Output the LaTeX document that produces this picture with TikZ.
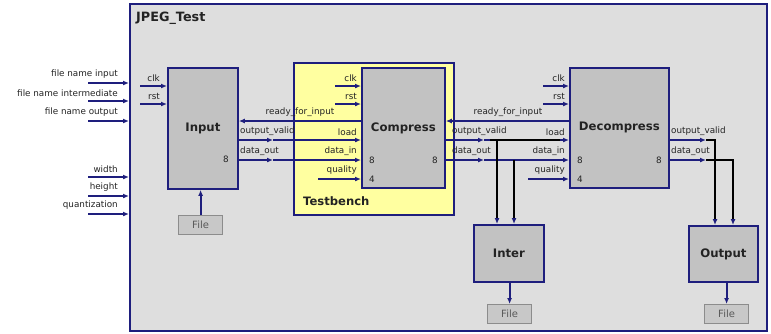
\documentclass[tikz,border=0pt]{standalone}
\usepackage{fontspec}
\setmainfont{DejaVu Sans}
\usetikzlibrary{arrows.meta}
\definecolor{nv}{RGB}{30,30,125}
\definecolor{bg}{RGB}{222,222,222}
\definecolor{bx}{RGB}{194,194,194}
\definecolor{yl}{RGB}{255,255,160}
\definecolor{fl}{RGB}{200,200,200}
\definecolor{flb}{RGB}{140,140,140}
\definecolor{tx}{RGB}{35,35,35}
\tikzset{
 blk/.style={draw=nv, line width=1.8pt, fill=bx, anchor=north west, inner sep=0pt, font=\fontsize{11.7}{13}\selectfont\bfseries, text=tx},
 filebox/.style={draw=flb, line width=1.2pt, fill=fl, anchor=north west, inner sep=0pt, minimum width=44, minimum height=19, font=\fontsize{10}{12}\selectfont, text=black!65},
 lbl/.style={font=\fontsize{8.8}{10}\selectfont, text=tx, inner sep=0pt},
 sig/.style={draw=nv, line width=2pt, -{Latex[length=6pt,width=5pt]}},
 bsig/.style={draw=black, line width=1.6pt},
 bsiga/.style={draw=black, line width=1.6pt, -{Latex[length=6pt,width=5pt,color=nv]}},
}
\begin{document}
\begin{tikzpicture}[x=1pt,y=-1pt]
\useasboundingbox (0,0) rectangle (771,333);
% outer
\node[draw=nv, line width=2pt, fill=bg, anchor=north west, minimum width=637, minimum height=327, inner sep=0pt] (top) at (129,3) {};
\node[anchor=north west, inner sep=0pt, font=\fontsize{12.8}{14}\selectfont\bfseries, text=tx] (ttl) at (136,12) {JPEG\_Test};
% testbench
\node[draw=nv, line width=1.8pt, fill=yl, anchor=north west, minimum width=160, minimum height=152, inner sep=0pt] (tb) at (293,62) {};
\node[anchor=west, inner sep=0pt, font=\fontsize{11.6}{13}\selectfont\bfseries, text=tx] (tbl) at (303,201) {Testbench};
% blocks
\node[blk, minimum width=70, minimum height=121] (Input) at (167,67) {Input};
\node[blk, minimum width=83, minimum height=120] (Comp) at (361,67) {Compress};
\node[blk, minimum width=99, minimum height=120] (Dec) at (569,67) {Decompress};
\node[blk, minimum width=70, minimum height=57] (Inter) at (473,224) {Inter};
\node[blk, minimum width=69, minimum height=56] (Out) at (688,225) {Output};
\node[filebox] (F1) at (178,215) {File};
\node[filebox] (F2) at (487,304) {File};
\node[filebox] (F3) at (704,304) {File};
% y levels
\coordinate (Yclk) at (0,86);
\coordinate (Yrst) at (0,104);
\coordinate (Yrdy) at (0,121);
\coordinate (Yval) at (0,140);
\coordinate (Ydat) at (0,160);
\coordinate (Yq) at (0,179);
% left ports
\foreach \y/\t [count=\i] in {83/file name input,101/file name intermediate,121/file name output,177/width,196/height,214/quantization}{
  \coordinate (pl\i) at (88,\y);
  \draw[sig] (pl\i) -- (top.west |- pl\i);
  \node[lbl, anchor=south east] (lp\i) at (118,\y-4) {\t};
}
% Input ports
\coordinate (ic) at (140,86);
\coordinate (ir) at (140,104);
\draw[sig] (ic) -- (Input.west |- ic);
\draw[sig] (ir) -- (Input.west |- ir);
\node[lbl, anchor=south east] (ilc) at (160,82) {clk};
\node[lbl, anchor=south east] (ilr) at (160,100) {rst};
\node[lbl, anchor=east] (i8) at (229,159) {8};
\draw[sig] (F1.north) -- (Input.south -| F1.north);
% Compress ports
\coordinate (cc) at (335,86);
\coordinate (cr) at (335,104);
\coordinate (cq) at (318,179);
\draw[sig] (cc) -- (Comp.west |- cc);
\draw[sig] (cr) -- (Comp.west |- cr);
\draw[sig] (cq) -- (Comp.west |- cq);
\node[lbl, anchor=south east] at (357,82) {clk};
\node[lbl, anchor=south east] at (357,100) {rst};
\node[lbl, anchor=south east] at (357,136) {load};
\node[lbl, anchor=south east] at (357,156) {data\_in};
\node[lbl, anchor=south east] at (357,175) {quality};
\node[lbl, anchor=west] at (369,160) {8};
\node[lbl, anchor=west] at (369,179) {4};
\node[lbl, anchor=east] at (438,160) {8};
% Input <-> Compress
\draw[sig] (Comp.west |- Yrdy) -- (Input.east |- Yrdy);
\node[lbl, anchor=south] at (300,117) {ready\_for\_input};
\coordinate (m1) at (273,140);
\coordinate (m2) at (273,160);
\draw[sig] (Input.east |- Yval) -- (m1);
\draw[sig] (m1) -- (Comp.west |- Yval);
\draw[sig] (Input.east |- Ydat) -- (m2);
\draw[sig] (m2) -- (Comp.west |- Ydat);
\node[lbl, anchor=south west] at (240,136) {output\_valid};
\node[lbl, anchor=south west] at (240,156) {data\_out};
% Decompress ports
\coordinate (dc) at (543,86);
\coordinate (dr) at (543,104);
\coordinate (dq) at (528,179);
\draw[sig] (dc) -- (Dec.west |- dc);
\draw[sig] (dr) -- (Dec.west |- dr);
\draw[sig] (dq) -- (Dec.west |- dq);
\node[lbl, anchor=south east] at (565,82) {clk};
\node[lbl, anchor=south east] at (565,100) {rst};
\node[lbl, anchor=south east] at (565,136) {load};
\node[lbl, anchor=south east] at (565,156) {data\_in};
\node[lbl, anchor=south east] at (565,175) {quality};
\node[lbl, anchor=west] at (577,160) {8};
\node[lbl, anchor=west] at (577,179) {4};
\node[lbl, anchor=east] at (662,160) {8};
% Compress <-> Decompress
\draw[sig] (Dec.west |- Yrdy) -- (Comp.east |- Yrdy);
\node[lbl, anchor=south] at (508,117) {ready\_for\_input};
\coordinate (m3) at (484,140);
\coordinate (m4) at (484,160);
\draw[sig] (Comp.east |- Yval) -- (m3);
\draw[sig] (m3) -- (Dec.west |- Yval);
\draw[sig] (Comp.east |- Ydat) -- (m4);
\draw[sig] (m4) -- (Dec.west |- Ydat);
\draw[bsig] (490,140) -- (560,140);
\node[lbl, anchor=south west] at (452,136) {output\_valid};
\node[lbl, anchor=south west] at (452,156) {data\_out};
% branches to Inter
\coordinate (b1) at (497,140);
\coordinate (b2) at (514,160);
\draw[bsiga] (b1) -- (Inter.north -| b1);
\draw[bsiga] (b2) -- (Inter.north -| b2);
\draw[sig] (Inter.south -| F2.north) -- (F2.north);
% Output side
\coordinate (m5) at (706,140);
\coordinate (m6) at (706,160);
\coordinate (c5) at (715,140);
\coordinate (c6) at (733,160);
\draw[sig] (Dec.east |- Yval) -- (m5);
\draw[sig] (Dec.east |- Ydat) -- (m6);
\draw[bsiga] (m5) -- (c5) -- (Out.north -| c5);
\draw[bsiga] (m6) -- (c6) -- (Out.north -| c6);
\node[lbl, anchor=south west] at (671,136) {output\_valid};
\node[lbl, anchor=south west] at (671,156) {data\_out};
\draw[sig] (Out.south -| F3.north) -- (F3.north);
\end{tikzpicture}
\end{document}
